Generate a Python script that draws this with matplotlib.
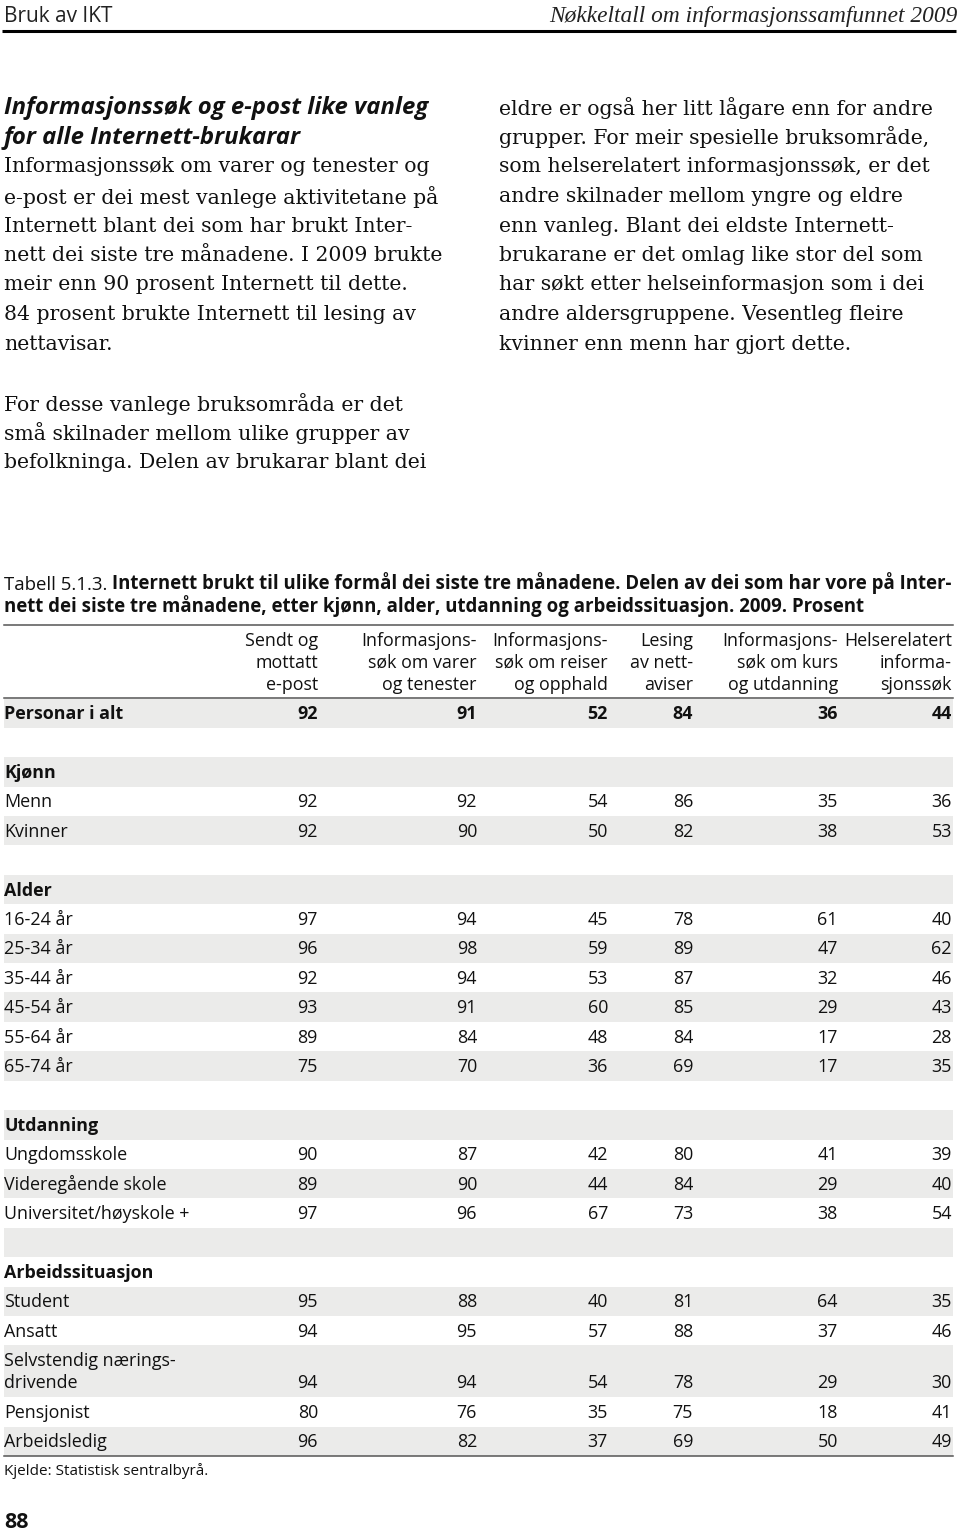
import matplotlib
matplotlib.use("Agg")
import matplotlib.pyplot as plt

# table data
columns = [
    ["Sendt og", "mottatt", "e-post"],
    ["Informasjons-", "søk om varer", "og tenester"],
    ["Informasjons-", "søk om reiser", "og opphald"],
    ["Lesing", "av nett-", "aviser"],
    ["Informasjons-", "søk om kurs", "og utdanning"],
    ["Helserelatert", "informa-", "sjonssøk"],
]
total = [92, 91, 52, 84, 36, 44]

kjonn_labels = ["Menn", "Kvinner"]
kjonn = [[92, 92, 54, 86, 35, 36],
         [92, 90, 50, 82, 38, 53]]

alder_labels = ["16-24 år", "25-34 år", "35-44 år", "45-54 år", "55-64 år", "65-74 år"]
alder = [[97, 94, 45, 78, 61, 40],
         [96, 98, 59, 89, 47, 62],
         [92, 94, 53, 87, 32, 46],
         [93, 91, 60, 85, 29, 43],
         [89, 84, 48, 84, 17, 28],
         [75, 70, 36, 69, 17, 35]]

utd_labels = ["Ungdomsskole", "Videregående skole", "Universitet/høyskole +"]
utd = [[90, 87, 42, 80, 41, 39],
       [89, 90, 44, 84, 29, 40],
       [97, 96, 67, 73, 38, 54]]

arb_labels = ["Student", "Ansatt", "Selvstendig nærings-\ndrivende", "Pensjonist", "Arbeidsledig"]
arb = [[95, 88, 40, 81, 64, 35],
       [94, 95, 57, 88, 37, 46],
       [94, 94, 54, 78, 29, 30],
       [80, 76, 35, 75, 18, 41],
       [96, 82, 37, 69, 50, 49]]

left_head = ["Informasjonssøk og e-post like vanleg", "for alle Internett-brukarar"]
left_body = [
    "Informasjonssøk om varer og tenester og",
    "e-post er dei mest vanlege aktivitetane på",
    "Internett blant dei som har brukt Inter-",
    "nett dei siste tre månadene. I 2009 brukte",
    "meir enn 90 prosent Internett til dette.",
    "84 prosent brukte Internett til lesing av",
    "nettavisar.",
]
left_body2 = [
    "For desse vanlege bruksområda er det",
    "små skilnader mellom ulike grupper av",
    "befolkninga. Delen av brukarar blant dei",
]
right_body = [
    "eldre er også her litt lågare enn for andre",
    "grupper. For meir spesielle bruksområde,",
    "som helserelatert informasjonssøk, er det",
    "andre skilnader mellom yngre og eldre",
    "enn vanleg. Blant dei eldste Internett-",
    "brukarane er det omlag like stor del som",
    "har søkt etter helseinformasjon som i dei",
    "andre aldersgruppene. Vesentleg fleire",
    "kvinner enn menn har gjort dette.",
]

SANS = ["Open Sans", "DejaVu Sans"]
SERIF = ["DejaVu Serif"]
GREY = "#ebebea"
FS = 12.9      # table font size
BODY = 14.7    # serif body size

fig = plt.figure(figsize=(9.6, 15.37), dpi=100)
ax = fig.add_axes([0, 0, 1, 1])
ax.set_xlim(0, 960)
ax.set_ylim(1537, 0)
ax.axis("off")

# page header
ax.text(4, 22, "Bruk av IKT", family=["Liberation Sans Narrow", "Open Sans"], fontsize=15,
        va="baseline", color="#222")
ax.text(958, 22, "Nøkkeltall om informasjonssamfunnet 2009", family=["Liberation Serif"],
        style="italic", fontsize=16.8, ha="right", va="baseline", color="#222")
ax.plot([2, 956], [31, 31], color="black", lw=2.2, solid_capstyle="butt")

# text columns
for i, s in enumerate(left_head):
    ax.text(4, 108 + i * 29.5, s, family=SANS, weight="bold", style="italic",
            fontsize=17.2, va="center", color="#111")
for i, s in enumerate(left_body):
    ax.text(4, 167 + i * 29.5, s, family=SERIF, fontsize=BODY, va="center", color="#111")
for i, s in enumerate(left_body2):
    ax.text(4, 404 + i * 29.5, s, family=SERIF, fontsize=BODY, va="center", color="#111")
for i, s in enumerate(right_body):
    ax.text(499, 108 + i * 29.5, s, family=SERIF, fontsize=BODY, va="center", color="#111")

# table caption
t1 = ax.text(4, 590, "Tabell 5.1.3. ", family=SANS, fontsize=13.4, va="baseline", color="#111")
ax.annotate("Internett brukt til ulike formål dei siste tre månadene. Delen av dei som har vore på Inter-",
            xy=(1, 0), xycoords=t1, ha="left", va="bottom", family=SANS, weight="bold",
            fontsize=13.4, color="#111")
ax.text(4, 612, "nett dei siste tre månadene, etter kjønn, alder, utdanning og arbeidssituasjon. 2009. Prosent",
        family=SANS, weight="bold", fontsize=13.4, va="baseline", color="#111")

x0, x1 = 4, 953
col_right = [318, 477, 608, 693, 838, 952]
ax.plot([x0, x1], [625, 625], color="#555", lw=1.1)
for c, lines in enumerate(columns):
    for j, s in enumerate(lines):
        ax.text(col_right[c], 641 + j * 22, s, family=SANS, fontsize=FS, ha="right",
                va="center", color="#111")
ax.plot([x0, x1], [698, 698], color="#555", lw=1.1)

# build rows
rows = [("Personar i alt", total, "total"), ("", None, "blank")]
for name, labels, vals in [("Kjønn", kjonn_labels, kjonn), ("Alder", alder_labels, alder),
                           ("Utdanning", utd_labels, utd), ("Arbeidssituasjon", arb_labels, arb)]:
    rows.append((name, None, "group"))
    for lab, v in zip(labels, vals):
        rows.append((lab, v, "row"))
    if name != "Arbeidssituasjon":
        rows.append(("", None, "blank"))

h = 29.4
y = 698.5
for k, (lab, vals, kind) in enumerate(rows):
    nlines = lab.count("\n") + 1
    rh = h if nlines == 1 else 52
    if k % 2 == 0:
        ax.fill_between([x0, x1], y, y + rh, color=GREY, lw=0)
    bold = kind in ("total", "group")
    if nlines == 1:
        ty = y + rh / 2 + 1
        ax.text(x0, ty, lab, family=SANS, fontsize=FS, weight="bold" if bold else "normal",
                va="center", color="#111")
    else:
        parts = lab.split("\n")
        ty = y + rh / 2 + 12
        ax.text(x0, y + rh / 2 - 10, parts[0], family=SANS, fontsize=FS, va="center", color="#111")
        ax.text(x0, ty, parts[1], family=SANS, fontsize=FS, va="center", color="#111")
    if vals is not None:
        for c, v in enumerate(vals):
            ax.text(col_right[c], ty, str(v), family=SANS, fontsize=FS,
                    weight="bold" if bold else "normal", ha="right", va="center", color="#111")
    y += rh

ax.plot([x0, x1], [y, y], color="#555", lw=1.1)
ax.text(4, y + 15, "Kjelde: Statistisk sentralbyrå.", family=SANS, fontsize=11,
        va="center", color="#111")
ax.text(4, 1523, "88", family=SANS, weight="bold", fontsize=15.5, va="center", color="#111")

fig.savefig("out.png", dpi=100)
